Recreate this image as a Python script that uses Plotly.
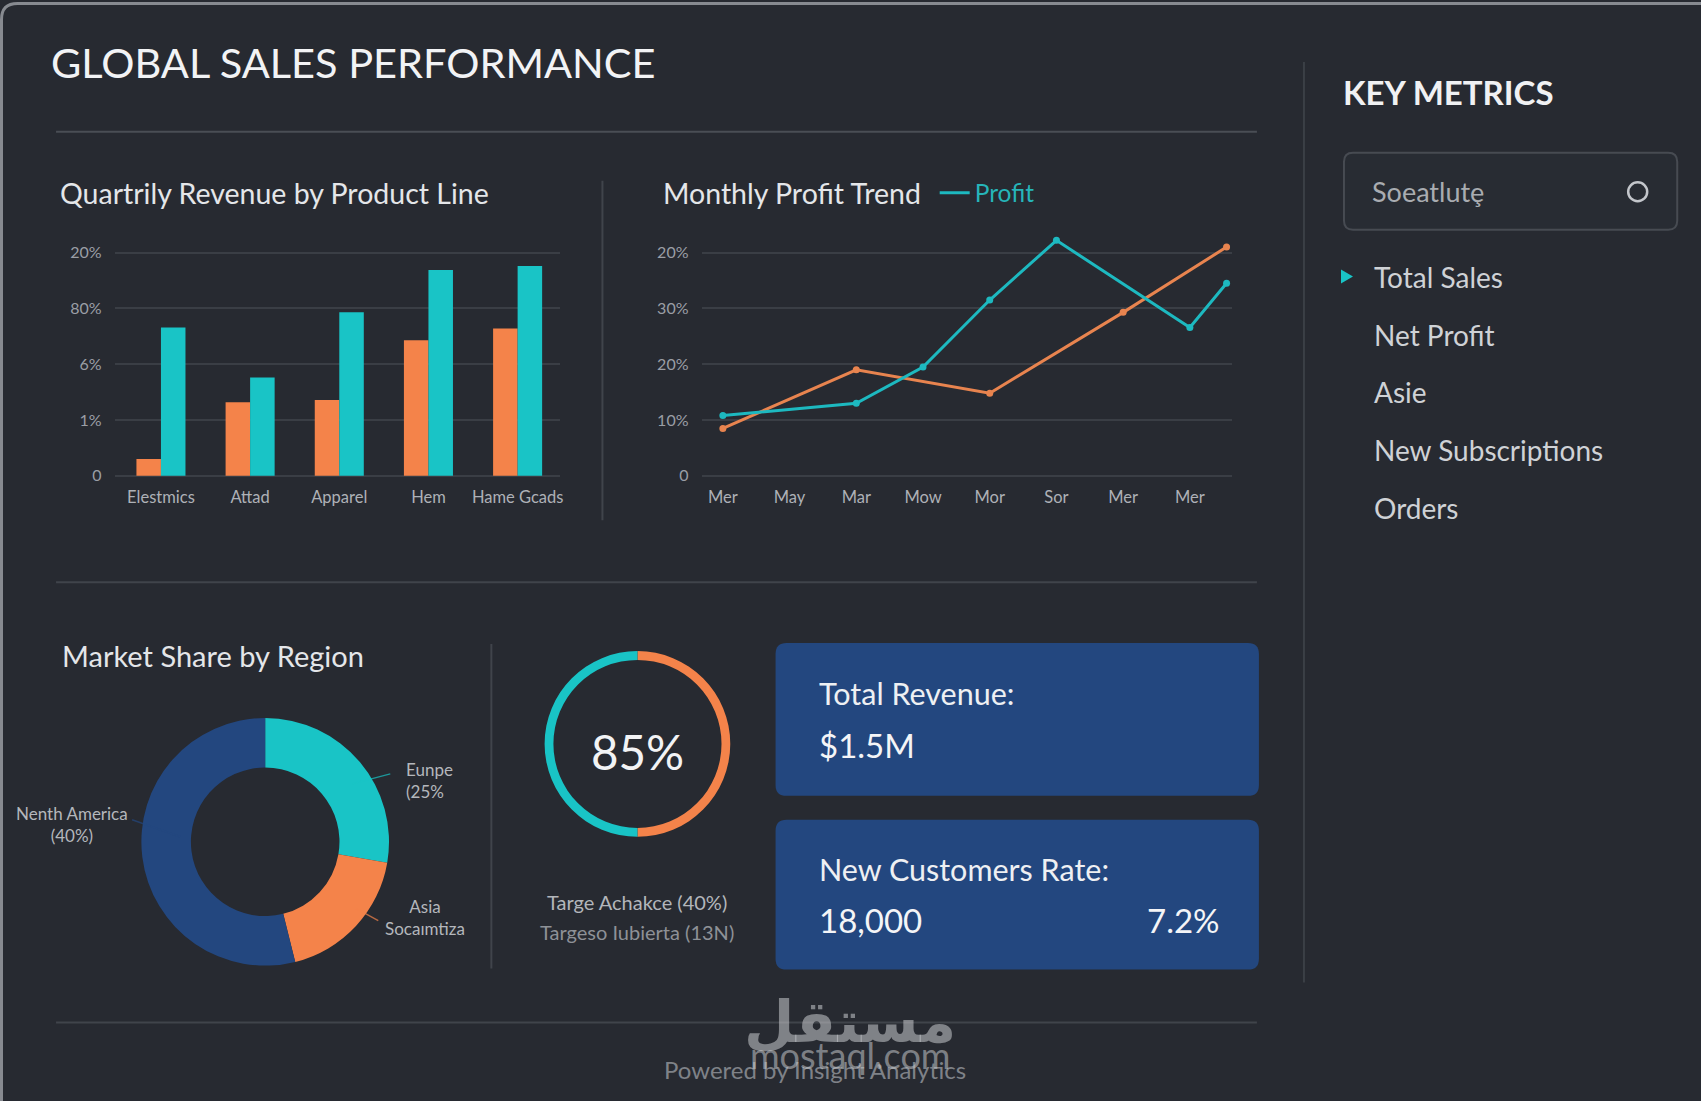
import plotly.graph_objects as go

W, H = 1701, 1101

# ---------------- data ----------------
bar_categories = ["Elestmics", "Attad", "Apparel", "Hem", "Hame Gcads"]
bar_orange = [0.30, 1.32, 1.36, 2.43, 2.64]
bar_cyan = [2.66, 1.76, 2.93, 3.69, 3.76]
bar_ytick_text = ["0", "1%", "6%", "80%", "20%"]

months = ["Mer", "May", "Mar", "Mow", "Mor", "Sor", "Mer", "Mer"]
profit_x = [0, 2, 3, 4, 5, 7, 7.55]
profit_y = [1.08, 1.30, 1.95, 3.15, 4.22, 2.66, 3.45]
second_x = [0, 2, 4, 6, 7.55]
second_y = [0.85, 1.90, 1.48, 2.93, 4.10]
line_ytick_text = ["0", "10%", "20%", "30%", "20%"]

regions = ["Europe", "Asia", "North America"]
region_share = [27.7, 18.4, 53.9]
region_labels = ["Eunpe<br>(25%", "Asia<br>Socaımtiza", "Nenth America<br>(40%)"]

gauge_values = [50, 50]
gauge_text = "85%"
gauge_notes = ["Targe Achakce (40%)", "Targeso Iubierta (13N)"]

metrics = ["Total Sales", "Net Profit", "Asie", "New Subscriptions", "Orders"]
card_revenue = ["Total Revenue:", "$1.5M"]
card_customers = ["New Customers Rate:", "18,000", "7.2%"]

# ---------------- styles ----------------
BG = "#272a31"
ORANGE = "#f4834a"
CYAN = "#19c4c6"
LCYAN = "#1db9c0"
LORANGE = "#e8844f"
NAVY = "#23477f"
GRID = "#3a3e45"
DIV = "#40444b"
FONT = "Lato"

SX, SY = 1.0025, 1.0068


def px(x):
    return x * SX / W


def py(y):
    return 1 - y * SY / H


ZERO_PX, FOUR_PX = 474.5, 251.0
UNIT = (ZERO_PX - FOUR_PX) / 4


def ydom(lo, hi):
    bottom = ZERO_PX - lo * UNIT
    top = ZERO_PX - hi * UNIT
    return [py(bottom), py(top)]


fig = go.Figure()

# bar chart
fig.add_trace(go.Bar(x=list(range(len(bar_categories))), y=bar_orange, marker_color=ORANGE,
                     marker_line_width=0, showlegend=False, xaxis="x", yaxis="y"))
fig.add_trace(go.Bar(x=list(range(len(bar_categories))), y=bar_cyan, marker_color=CYAN,
                     marker_line_width=0, showlegend=False, xaxis="x", yaxis="y"))

# line chart
fig.add_trace(go.Scatter(x=second_x, y=second_y, mode="lines+markers", name="Target",
                         line=dict(color=LORANGE, width=3), marker=dict(size=7, color=LORANGE),
                         showlegend=False, cliponaxis=False, xaxis="x2", yaxis="y2"))
fig.add_trace(go.Scatter(x=profit_x, y=profit_y, mode="lines+markers", name="Profit",
                         line=dict(color=LCYAN, width=3), marker=dict(size=7, color=LCYAN),
                         showlegend=False, cliponaxis=False, xaxis="x2", yaxis="y2"))
# legend entry (line only, like the reference)
fig.add_trace(go.Scatter(x=[None], y=[None], mode="lines", name="Profit",
                         line=dict(color=LCYAN, width=3), showlegend=True, xaxis="x2", yaxis="y2"))

# donut
cx, cy, r = 265, 841, 124
fig.add_trace(go.Pie(values=region_share, labels=regions, sort=False, direction="clockwise",
                     rotation=0, hole=0.6, textinfo="none", showlegend=False,
                     marker=dict(colors=[CYAN, ORANGE, NAVY], line=dict(width=0)),
                     domain=dict(x=[px(cx - r), px(cx + r)], y=[py(cy + r), py(cy - r)])))

# gauge ring
gx, gy, gr = 637, 743, 93
fig.add_trace(go.Pie(values=gauge_values, labels=["a", "b"], sort=False, direction="clockwise",
                     rotation=0, hole=0.905, textinfo="none", showlegend=False,
                     marker=dict(colors=[ORANGE, CYAN], line=dict(width=0)),
                     domain=dict(x=[px(gx - gr), px(gx + gr)], y=[py(gy + gr), py(gy - gr)])))

xcommon = dict(showline=False, zeroline=False, ticks="", showgrid=False)
ycommon = dict(showline=False, zeroline=False, ticks="", gridcolor=GRID, gridwidth=1.5, showgrid=True)

fig.update_layout(
    width=W, height=H, margin=dict(l=0, r=0, t=0, b=0),
    paper_bgcolor=BG, plot_bgcolor="rgba(0,0,0,0)",
    font=dict(family=FONT, color="#d0d3d8"),
    barmode="group", bargap=0.45, bargroupgap=0,
    hovermode=False,
    xaxis=dict(domain=[px(114.5), px(560)], range=[-0.52, 4.48], tickvals=list(range(5)),
               ticktext=bar_categories, tickfont=dict(size=16.5, color="#aeb1b7"),
               ticklabelstandoff=9, **xcommon),
    yaxis=dict(domain=ydom(-0.02, 4.15), range=[-0.02, 4.15], tickvals=[0, 1, 2, 3, 4],
               ticktext=bar_ytick_text, tickfont=dict(size=16, color="#9a9ea5"),
               ticklabelstandoff=12, **ycommon),
    xaxis2=dict(domain=[px(701), px(1231)], range=[-0.32, 7.63], tickvals=list(range(8)),
                ticktext=months, tickfont=dict(size=16.5, color="#aeb1b7"),
                ticklabelstandoff=9, anchor="y2", **xcommon),
    yaxis2=dict(domain=ydom(-0.02, 4.4), range=[-0.02, 4.4], tickvals=[0, 1, 2, 3, 4],
                ticktext=line_ytick_text, tickfont=dict(size=16, color="#9a9ea5"),
                ticklabelstandoff=12, anchor="x2", **ycommon),
    legend=dict(x=px(934), y=py(191), xanchor="left", yanchor="middle", bgcolor="rgba(0,0,0,0)",
                font=dict(size=24.5, color="#26b5b9", family=FONT), itemwidth=30),
)


def rrect(x0, y0, x1, y1, rad):
    pts = [
        f"M {px(x0 + rad)},{py(y0)}",
        f"L {px(x1 - rad)},{py(y0)}",
        f"Q {px(x1)},{py(y0)} {px(x1)},{py(y0 + rad)}",
        f"L {px(x1)},{py(y1 - rad)}",
        f"Q {px(x1)},{py(y1)} {px(x1 - rad)},{py(y1)}",
        f"L {px(x0 + rad)},{py(y1)}",
        f"Q {px(x0)},{py(y1)} {px(x0)},{py(y1 - rad)}",
        f"L {px(x0)},{py(y0 + rad)}",
        f"Q {px(x0)},{py(y0)} {px(x0 + rad)},{py(y0)}",
        "Z",
    ]
    return " ".join(pts)


shapes = []


def hline(x0, x1, y, color=DIV, width=2):
    shapes.append(dict(type="line", xref="paper", yref="paper", x0=px(x0), x1=px(x1), y0=py(y), y1=py(y),
                       line=dict(color=color, width=width), layer="below"))


def vline(x, y0, y1, color=DIV, width=2):
    shapes.append(dict(type="line", xref="paper", yref="paper", x0=px(x), x1=px(x), y0=py(y0), y1=py(y1),
                       line=dict(color=color, width=width), layer="below"))


# outer frame edge
shapes.append(dict(type="path", xref="paper", yref="paper", path=rrect(1.5, 1.5, W + 30, H + 30, 16),
                   line=dict(color="#878a90", width=3), fillcolor="rgba(0,0,0,0)", layer="below"))

hline(56, 1256, 130, color="#4a4e55")
hline(56, 1256, 581)
hline(56, 1256, 1022)
vline(602, 179, 519)
vline(491, 643, 968)
vline(1303, 60, 982, color="#3b3f46")

# search box
shapes.append(dict(type="path", xref="paper", yref="paper", path=rrect(1343, 151, 1676, 228, 9),
                   line=dict(color="#474b52", width=2), fillcolor="#282c33", layer="below"))
shapes.append(dict(type="circle", xref="paper", yref="paper", x0=px(1627), x1=px(1646),
                   y0=py(199.5), y1=py(180.5), line=dict(color="#c3c6cb", width=2.5), layer="above"))
# active marker
shapes.append(dict(type="path", xref="paper", yref="paper",
                   path=f"M {px(1340)},{py(268)} L {px(1352)},{py(275)} L {px(1340)},{py(282)} Z",
                   fillcolor=CYAN, line=dict(width=0), layer="above"))

# cards
shapes.append(dict(type="path", xref="paper", yref="paper", path=rrect(775, 642, 1258, 795, 11),
                   line=dict(width=0), fillcolor=NAVY, layer="below"))
shapes.append(dict(type="path", xref="paper", yref="paper", path=rrect(775, 819, 1258, 969, 11),
                   line=dict(width=0), fillcolor=NAVY, layer="below"))

# donut leader lines
for (x0, y0, x1, y1, col) in [(352, 783, 390, 773, CYAN), (132, 819, 180, 836, NAVY),
                              (356, 908, 378, 920, ORANGE)]:
    shapes.append(dict(type="line", xref="paper", yref="paper", x0=px(x0), y0=py(y0), x1=px(x1), y1=py(y1),
                       line=dict(color=col, width=1.5), opacity=0.7, layer="above"))

fig.update_layout(shapes=shapes)

anns = []


def ann(text, x, y, size, color="#e8eaed", xanchor="left", yanchor="middle", weight="normal",
        align="left", opacity=1.0, family=FONT):
    anns.append(dict(text=text, x=px(x), y=py(y), xref="paper", yref="paper", showarrow=False,
                     xanchor=xanchor, yanchor=yanchor, align=align, opacity=opacity,
                     font=dict(size=size, color=color, family=family, weight=weight)))


ann("GLOBAL SALES PERFORMANCE", 49, 60, 41.5, color="#f2f3f5")
ann("Quartrily Revenue by Product Line", 58, 191, 28.5, color="#e4e6e9")
ann("Monthly Profit Trend", 661, 191, 28.5, color="#e4e6e9")
ann("Market Share by Region", 60, 654, 29, color="#e4e6e9")

ann("KEY METRICS", 1340, 90, 33, color="#f0f1f3", weight="bold")
ann("Soeatlutȩ", 1369, 190, 27, color="#a9acb1")
metric_y = [275, 333, 391, 449, 507]
for name, yy in zip(metrics, metric_y):
    ann(name, 1371, yy, 28, color="#cfd2d6")

# donut labels
ann(region_labels[0], 404, 780, 17, color="#b4b7bc")
ann(region_labels[1], 425, 917, 17, color="#b4b7bc", xanchor="center", align="center")
ann(region_labels[2], 72, 824, 17, color="#b4b7bc", xanchor="center", align="center")

# gauge
ann(gauge_text, gx, 751, 47.5, color="#f2f3f5", xanchor="center")
ann(gauge_notes[0], gx, 901, 20, color="#b3b6bb", xanchor="center")
ann(gauge_notes[1], gx, 931, 20, color="#8e9197", xanchor="center")

# cards
ann(card_revenue[0], 816, 692, 30.5, color="#eef0f3")
ann(card_revenue[1], 816, 744, 33, color="#f4f5f7")
ann(card_customers[0], 816, 868, 30.5, color="#eef0f3")
ann(card_customers[1], 816, 919, 33, color="#f4f5f7")
ann(card_customers[2], 1221, 919, 33, color="#f4f5f7", xanchor="right")

# footer + watermark (overlapping, as in the reference)
ann("Powered by Insight Analytics", 814, 1069, 24, color="#7f8288", xanchor="center")
ann("مستقل", 849, 1021, 58, color="rgba(200,202,206,0.55)", xanchor="center", weight="bold",
    family="DejaVu Sans")
ann("mostaql.com", 849, 1055, 36, color="rgba(200,202,206,0.55)", xanchor="center")

fig.update_layout(annotations=anns)

fig.write_html("out.html")
